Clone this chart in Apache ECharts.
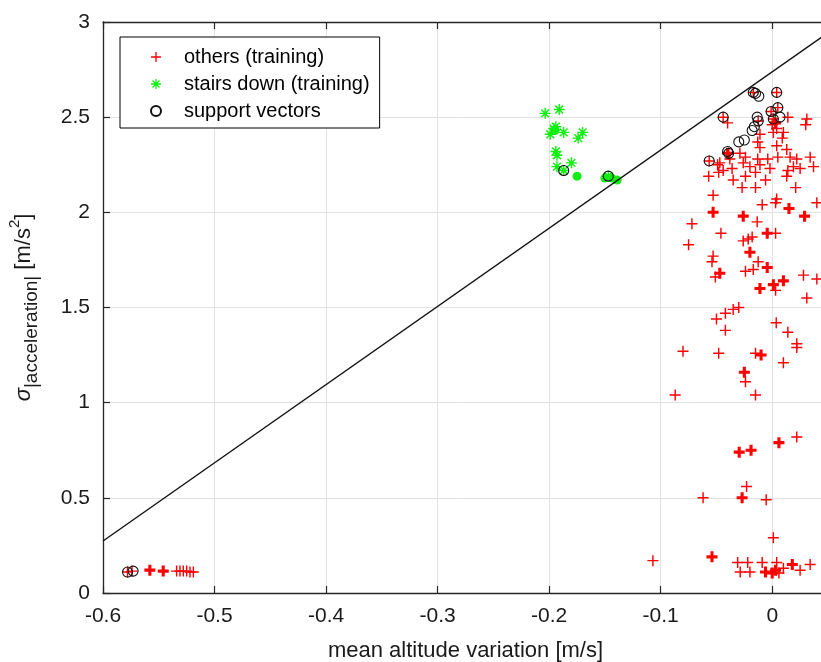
<!DOCTYPE html>
<html>
<head>
<meta charset="utf-8">
<title>SVM stairs down</title>
<script src="https://cdn.jsdelivr.net/npm/echarts@6.0.0/dist/echarts.min.js"></script>
<style>
    html, body { margin: 0; padding: 0; background: #fff; }
    #chart { width: 821px; height: 662px; }
</style>
</head>
<body>
<div id="chart"></div>
<script>
// training points of the "others" class, [mean altitude variation, sigma]
const othersPoints = [
    [-0.578, 0.11], [-0.574, 0.115], [-0.534, 0.115], [-0.531, 0.115], [-0.528, 0.115],
    [-0.525, 0.115], [-0.522, 0.11], [-0.519, 0.11],
    [-0.017, 2.63], [0.004, 2.63], [-0.044, 2.50], [-0.001, 2.53], [0.005, 2.55], [0.001, 2.49],
    [-0.0126, 2.48], [-0.0565, 2.27], [-0.039, 2.31],
    [0.014, 2.50], [0.031, 2.49], [0.030, 2.46], [-0.040, 2.47],
    [0, 2.46], [0.004, 2.44], [0.010, 2.42], [0.001, 2.42], [0.009, 2.39], [0.004, 2.35], [0.013, 2.33],
    [-0.011, 2.41], [-0.013, 2.37], [-0.011, 2.34], [-0.029, 2.31], [-0.024, 2.29], [-0.038, 2.28],
    [-0.047, 2.26], [-0.049, 2.25], [-0.013, 2.28], [-0.004, 2.28], [0.005, 2.29], [0.016, 2.29],
    [0.022, 2.28], [0.034, 2.29], [0.037, 2.24], [0.019, 2.24], [0.014, 2.22], [0.025, 2.23],
    [-0.002, 2.23], [-0.011, 2.25], [-0.020, 2.24], [-0.026, 2.26], [-0.036, 2.23], [-0.044, 2.22],
    [-0.057, 2.19], [-0.048, 2.21], [-0.035, 2.17], [-0.024, 2.19], [-0.015, 2.21], [-0.006, 2.17],
    [0.013, 2.19], [-0.027, 2.13], [-0.015, 2.13], [0.004, 2.07], [0.021, 2.13], [-0.053, 2.09],
    [-0.009, 2.04], [0.040, 2.05], [0.003, 2.05],
    [-0.0135, 1.95], [-0.072, 1.94], [-0.075, 1.83], [-0.046, 1.89], [0.003, 1.89], [-0.026, 1.85],
    [-0.0215, 1.86], [-0.018, 1.87], [-0.053, 1.77], [-0.054, 1.74], [-0.0126, 1.74], [-0.051, 1.66],
    [-0.024, 1.69], [-0.017, 1.70], [0.028, 1.67], [0.040, 1.65], [0.003, 1.59], [0.031, 1.55],
    [-0.030, 1.50], [-0.035, 1.49], [-0.042, 1.47], [-0.050, 1.44], [-0.042, 1.38], [0.0036, 1.42],
    [0.014, 1.37], [0.022, 1.31], [0.022, 1.29], [-0.048, 1.26], [-0.015, 1.26], [0.010, 1.21],
    [-0.024, 1.11], [-0.015, 1.04], [-0.080, 1.27], [-0.087, 1.04],
    [0.022, 0.82], [-0.023, 0.56], [-0.062, 0.50], [-0.0054, 0.49], [0.001, 0.29], [-0.031, 0.16],
    [-0.022, 0.16], [-0.0287, 0.11], [-0.020, 0.11], [-0.009, 0.16], [0.004, 0.16], [0.006, 0.105],
    [0.010, 0.13], [0.025, 0.12], [0.034, 0.15], [-0.107, 0.17]
];

// places where several "others" points sit on top of each other (drawn heavier)
const othersStacked = [
    [-0.558, 0.12], [-0.546, 0.115],
    [-0.040, 2.31], [0.003, 2.47],
    [-0.053, 2.00], [-0.026, 1.98], [0.015, 2.02], [0.029, 1.98], [-0.0045, 1.89], [-0.020, 1.79],
    [-0.0045, 1.71], [-0.047, 1.68], [-0.011, 1.60], [0.001, 1.62], [0.010, 1.64], [-0.010, 1.25],
    [-0.025, 1.16], [0.006, 0.79], [-0.0296, 0.74], [-0.019, 0.75], [-0.027, 0.50], [-0.054, 0.19],
    [-0.006, 0.11], [0, 0.105], [0.003, 0.12], [0.018, 0.15]
];

const stairsPoints = [
    [-0.2036, 2.52], [-0.191, 2.54], [-0.199, 2.41], [-0.187, 2.42], [-0.170, 2.42], [-0.174, 2.39],
    [-0.194, 2.32], [-0.193, 2.30], [-0.180, 2.26], [-0.193, 2.24], [-0.196, 2.44], [-0.194, 2.45],
    [-0.187, 2.22], [-0.147, 2.19]
];

const stairsStacked = [
    [-0.195, 2.43], [-0.175, 2.19], [-0.150, 2.18], [-0.144, 2.18], [-0.139, 2.17]
];

const supportVectors = [
    [-0.578, 0.11], [-0.573, 0.115],
    [-0.187, 2.22], [-0.147, 2.19],
    [-0.017, 2.63], [-0.015, 2.625], [-0.012, 2.61], [0.004, 2.63],
    [-0.044, 2.50], [-0.0135, 2.50], [-0.0126, 2.48], [-0.001, 2.53], [0.005, 2.55], [0.001, 2.49],
    [0.007, 2.50], [-0.018, 2.43], [-0.016, 2.45], [-0.030, 2.37], [-0.025, 2.38], [-0.040, 2.32],
    [-0.039, 2.31], [-0.0565, 2.27]
];

// separating line end points
const boundaryX = [-0.6, 0.05];
const boundaryY = [0.273, 2.944];

const xTicks = { min: -0.6, max: 0.05, step: 0.1 };
const yTicks = { min: 0, max: 3, step: 0.5 };

const legendNames = ['others (training)', 'stairs down (training)', 'support vectors'];

const FONT = '"Liberation Sans", Arial, Helvetica, sans-serif';
const PLUS = 'path://M4.35,0H5.65V4.35H10V5.65H5.65V10H4.35V5.65H0V4.35H4.35Z';
const PLUS_BOLD = 'path://M3.6,0H6.4V3.6H10V6.4H6.4V10H3.6V6.4H0V3.6H3.6Z';
const STAR = 'path://M0,4.35H10V5.65H0Z M4.35,0H5.65V10H4.35Z'
    + ' M1.924,0.965L8.995,8.076L8.076,9.035L1.005,1.924Z'
    + ' M1.005,8.076L8.076,0.965L8.995,1.924L1.924,9.035Z';

function withSymbol(points, symbol, size) {
    return points.map(function (p) {
        return { value: p, symbol: symbol, symbolSize: size };
    });
}

function frameAxis(type, position, extra) {
    const axis = {
        type: 'value',
        position: position,
        axisLine: { show: true, onZero: false, lineStyle: { color: '#262626', width: 1.3 } },
        axisTick: { show: true, inside: true, length: 7, lineStyle: { color: '#262626', width: 1.2 } },
        axisLabel: { show: false },
        splitLine: { show: false }
    };
    const t = type === 'x' ? xTicks : yTicks;
    axis.min = t.min;
    axis.max = t.max;
    axis.interval = t.step;
    return Object.assign(axis, extra || {});
}

function drawChart(id) {
    const chart = echarts.init(document.getElementById(id), null, { renderer: 'canvas' });

    const othersData = othersPoints.map(function (p) { return p; })
        .concat(withSymbol(othersStacked, PLUS_BOLD, 11));
    const stairsData = stairsPoints.map(function (p) { return p; })
        .concat(withSymbol(stairsStacked, 'circle', 9));

    chart.setOption({
        animation: false,
        backgroundColor: '#fff',
        textStyle: { fontFamily: FONT },
        // the right edge of the box lies just past the picture
        grid: { left: 103, top: 22, width: 725, height: 571, containLabel: false, outerBoundsMode: 'none' },
        legend: {
            data: legendNames,
            orient: 'vertical',
            left: 120,
            top: 37,
            padding: [10, 10, 7, 30],
            itemGap: 7,
            itemWidth: 10,
            itemHeight: 10,
            backgroundColor: '#fff',
            borderColor: '#000',
            borderWidth: 1,
            textStyle: { fontFamily: FONT, fontSize: 20, color: '#000', lineHeight: 20, padding: [0, 0, 0, 18] }
        },
        xAxis: [
            frameAxis('x', 'bottom', {
                name: 'mean altitude variation [m/s]',
                nameLocation: 'middle',
                nameGap: 47,
                nameTextStyle: { fontFamily: FONT, fontSize: 22, color: '#1a1a1a' },
                axisLabel: { show: true, showMaxLabel: false, margin: 13, fontFamily: FONT, fontSize: 21, color: '#1a1a1a' },
                splitLine: { show: true, lineStyle: { color: '#e2e2e2', width: 1 } }
            }),
            frameAxis('x', 'top')
        ],
        yAxis: [
            frameAxis('y', 'left', {
                name: '{s|σ}{b||acceleration|}{m| [m/s}{p|2}{m|]}',
                nameLocation: 'middle',
                nameRotate: 90,
                nameGap: 62,
                nameTextStyle: {
                    fontFamily: FONT,
                    color: '#1a1a1a',
                    rich: {
                        s: { fontFamily: FONT, fontSize: 22, fontStyle: 'italic', lineHeight: 34, color: '#1a1a1a' },
                        b: { fontFamily: FONT, fontSize: 19, lineHeight: 19, verticalAlign: 'bottom', color: '#1a1a1a' },
                        m: { fontFamily: FONT, fontSize: 22, lineHeight: 34, color: '#1a1a1a' },
                        p: { fontFamily: FONT, fontSize: 15, lineHeight: 15, verticalAlign: 'top', color: '#1a1a1a' }
                    }
                },
                axisLabel: { show: true, margin: 13, fontFamily: FONT, fontSize: 21, color: '#1a1a1a' },
                splitLine: { show: true, lineStyle: { color: '#e2e2e2', width: 1 } }
            }),
            frameAxis('y', 'right')
        ],
        series: [
            {
                name: legendNames[0],
                type: 'scatter',
                symbol: PLUS,
                symbolSize: 11,
                itemStyle: { color: '#ff0000', opacity: 1 },
                data: othersData
            },
            {
                name: legendNames[1],
                type: 'scatter',
                symbol: STAR,
                symbolSize: 11,
                itemStyle: { color: '#11ee11', opacity: 1 },
                data: stairsData
            },
            {
                name: 'boundary',
                type: 'line',
                symbol: 'none',
                lineStyle: { color: '#111', width: 1.4 },
                data: boundaryX.map(function (x, i) { return [x, boundaryY[i]]; }),
                z: 3
            },
            {
                name: legendNames[2],
                type: 'scatter',
                symbol: 'circle',
                symbolSize: 10,
                itemStyle: { color: 'rgba(0,0,0,0)', borderColor: '#111', borderWidth: 1.1, opacity: 1 },
                data: supportVectors,
                z: 4
            }
        ]
    });
}

drawChart('chart');
</script>
</body>
</html>
